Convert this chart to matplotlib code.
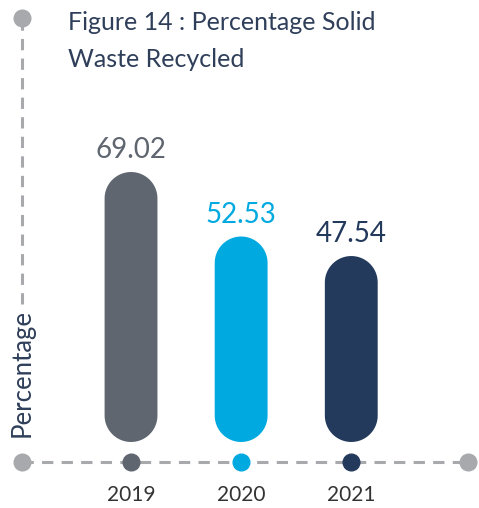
import numpy as np
import matplotlib.pyplot as plt
from matplotlib.patches import Polygon

# datos
years = ["2019", "2020", "2021"]
values = [69.02, 52.53, 47.54]
bar_colors = ["#5f6670", "#00a9e0", "#233a5c"]

title = "Figure 14 : Percentage Solid\nWaste Recycled"
ylabel = "Percentage"

axis_grey = "#a7a9ac"
text_navy = "#2f3f5a"

plt.rcParams['font.family'] = ['Lato', 'DejaVu Sans']

fig = plt.figure(figsize=(4.79, 5.08), dpi=100)
ax = fig.add_axes([22 / 479, 46 / 508, 446 / 479, 444 / 508])

x = list(range(len(years)))
ax.set_xlim(-0.99, 3.06)
ax.set_ylim(-5.12, 108.4)

# relacion de aspecto para que las puntas queden redondas
fig.canvas.draw()
p0 = ax.transData.transform((0, 0))
p1 = ax.transData.transform((1, 1))
dx_px = 1 / (p1[0] - p0[0])
dy_px = 1 / (p1[1] - p0[1])
aspect = dy_px / dx_px

w = 0.48
r = w / 2
ry = r * aspect   # radio en unidades de y
t_top = np.linspace(0, np.pi, 60)
t_bot = np.linspace(np.pi, 2 * np.pi, 60)
for xi, v, c in zip(x, values, bar_colors):
    top = np.column_stack([xi + r * np.cos(t_top), v - ry + ry * np.sin(t_top)])
    bot = np.column_stack([xi + r * np.cos(t_bot), ry + ry * np.sin(t_bot)])
    ax.add_patch(Polygon(np.vstack([top, bot]), closed=True, fc=c, ec="none", zorder=2))
    ax.annotate(f"{v:.2f}", (xi, v), xytext=(0, 10), textcoords="offset points",
                ha="center", va="baseline", fontsize=20, color=c)

# ejes punteados
for s in ax.spines.values():
    s.set_visible(False)
dash = (0, (3.7, 2.7))
ax.plot([0, 1], [0, 0], transform=ax.transAxes, color=axis_grey, lw=2.2,
        linestyle=dash, clip_on=False, zorder=1)
ax.plot([0, 0], [0.355, 1], transform=ax.transAxes, color=axis_grey, lw=2.2,
        linestyle=dash, clip_on=False, zorder=1)
ax.plot([0, 1, 0], [0, 0, 1], transform=ax.transAxes, linestyle="none",
        marker="o", ms=12, color=axis_grey, clip_on=False, zorder=3)
for xi, c in zip(x, bar_colors):
    ax.plot(xi, ax.get_ylim()[0], marker="o", ms=12, color=c,
            clip_on=False, zorder=3)

ax.set_xticks(x)
ax.set_xticklabels(years, fontsize=15, color="#333333")
ax.tick_params(axis="x", length=0, pad=16.5)
ax.set_yticks([])

ax.text(0, 0.056, ylabel, transform=ax.transAxes, rotation=90,
        ha="center", va="bottom", fontsize=18.5, color=text_navy)

fig.text(68 / 479, 1 - 11 / 508, title, ha="left", va="top", fontsize=18,
         color=text_navy, linespacing=1.75)

fig.savefig("out.png", dpi=100)
